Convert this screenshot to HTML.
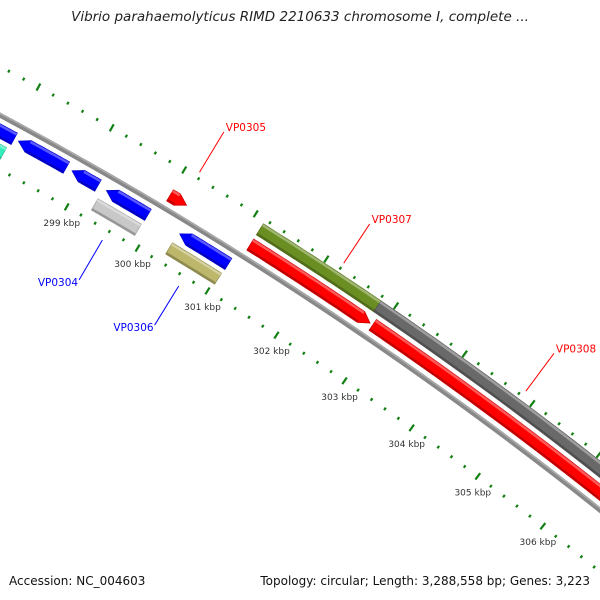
<!DOCTYPE html>
<html><head><meta charset="utf-8">
<style>
html,body{margin:0;padding:0;background:#fff;}
#wrap{position:relative;width:600px;height:600px;overflow:hidden;font-family:"DejaVu Sans","Liberation Sans",sans-serif;}
.title{position:absolute;top:9px;left:0;width:600px;text-align:center;font-style:italic;font-size:13.5px;color:#222;}
.foot{position:absolute;top:574px;font-size:12px;color:#111;}
</style></head>
<body>
<div id="wrap">
<div class="title">Vibrio parahaemolyticus RIMD 2210633 chromosome I, complete ...</div>
<svg id="map" width="600" height="600" style="position:absolute;left:0;top:0"></svg>
<div class="foot" style="left:9px">Accession: NC_004603</div>
<div class="foot" style="right:10px">Topology: circular; Length: 3,288,558 bp; Genes: 3,223</div>
</div>
<script>
// data (kbp)
const featStart = [297.0, 298.10, 298.84, 299.32, 300.35, 297.0, 299.28, 300.33, 300.01, 301.14, 302.90, 301.14, 302.82];
const featEnd   = [298.04, 298.76, 299.20, 299.90, 301.04, 298.01, 299.89, 301.03, 300.24, 302.86, 308.0, 302.82, 308.0];
const featTrack = [-1, -1, -1, -1, -1, -2, -2, -2, 1, 1, 1, 2, 2];
const featStrand= [-1, -1, -1, -1, -1, 0, 0, 0, 1, 1, 1, 0, 0];
const featColor = ["#0000ff","#0000ff","#0000ff","#0000ff","#0000ff","#33eebb","#c8c8c8","#bdb76b","#ff0000","#ff0000","#ff0000","#6b8e23","#696969"];
const tickLabels = [299, 300, 301, 302, 303, 304, 305, 306];
const labelNames = ["VP0304","VP0305","VP0306","VP0307","VP0308"];
const labelPos   = [299.58, 300.17, 300.67, 302.20, 304.85];
const labelTrack = [-2, 1, -2, 2, 2];
const labelColor = ["#0000ff","#ff0000","#0000ff","#ff0000","#ff0000"];

const CX=-1871, CY=3611, RB=3965;
const trackR = {"-2":3933,"-1":3951,"1":3979,"2":3997};
function ang(kbp){return (-60.35+(kbp-299)*1.199)*Math.PI/180;}
function pt(kbp,r){const a=ang(kbp);return [CX+r*Math.cos(a),CY+r*Math.sin(a)];}
const svg=document.getElementById('map');
const NS='http://www.w3.org/2000/svg';
function mk(tag,attrs){const e=document.createElementNS(NS,tag);for(const k in attrs)e.setAttribute(k,attrs[k]);svg.appendChild(e);return e;}
function arcPts(a,b,r,n){const p=[];for(let i=0;i<=n;i++){p.push(pt(a+(b-a)*i/n,r));}return p;}
function P(ps){return ps.map(p=>p[0].toFixed(1)+','+p[1].toFixed(1)).join(' ');}
function shade(hex,f){const n=parseInt(hex.slice(1),16);let r=n>>16,g=(n>>8)&255,b=n&255;
 const c=v=>Math.max(0,Math.min(255,Math.round(f>1?v+(255-v)*(f-1):v*f)));return 'rgb('+c(r)+','+c(g)+','+c(b)+')';}

// backbone
let bb=mk('polyline',{points:P(arcPts(296.5,308,RB,40)),fill:'none',stroke:'#888','stroke-width':5});


let bb2=mk('polyline',{points:P(arcPts(296.5,308,RB+1.5,40)),fill:'none',stroke:'#aaa','stroke-width':1.5});



// ticks
for(let k=2965;k<=3070;k++){
  const kb=k/10;
  if(k%2!==0)continue;
  const major=(k%10===0);
  const L=major?4:1.5;
  [3917,4008].forEach(r=>{
    const a=pt(kb,r-L),b=pt(kb,r+L);
    const t=mk('line',{x1:a[0],y1:a[1],x2:b[0],y2:b[1],stroke:'#138013','stroke-width':2.2});
    
    
  });
}
tickLabels.forEach(v=>{
  const p=pt(v,3917);
  const t=mk('text',{x:p[0]-5,y:p[1]+19,'text-anchor':'middle','font-size':'9','font-family':'DejaVu Sans, Liberation Sans, sans-serif',fill:'#333'});
  t.textContent=v+' kbp';
  
  
});

// features
const H=6.5, head=0.13;
featStart.forEach((s,i)=>{
  const e=featEnd[i], r=trackR[featTrack[i]], st=featStrand[i], col=featColor[i];
  let outer,inner,poly;
  if(st===1){
    const m=Math.max(s,e-head);
    outer=arcPts(s,m,r+H,20); inner=arcPts(s,m,r-H,20).reverse();
    poly=outer.concat([pt(e,r)],inner);
  }else if(st===-1){
    const m=Math.min(e,s+head);
    outer=arcPts(m,e,r+H,20); inner=arcPts(m,e,r-H,20).reverse();
    poly=[pt(s,r)].concat(outer,inner);
  }else{
    outer=arcPts(s,e,r+H,20); inner=arcPts(s,e,r-H,20).reverse();
    poly=outer.concat(inner);
  }
  const g=mk('polygon',{points:P(poly),fill:col,stroke:shade(col,0.8),'stroke-width':0.8});
  
  
  const a0=st===-1?Math.min(e,s+head):s, a1=st===1?Math.max(s,e-head):e;
  const hl=mk('polyline',{points:P(arcPts(a0,a1,r+H-1.5,20)),fill:'none',stroke:shade(col,1.35),'stroke-width':2.5});
  
  
  const dk=mk('polyline',{points:P(arcPts(a0,a1,r-H+1.2,20)),fill:'none',stroke:shade(col,0.75),'stroke-width':2});
  
  
});

// gene labels (radial leader lines)
labelNames.forEach((n,i)=>{
  const out=labelTrack[i]>0;
  const p1=out?pt(labelPos[i],4014):pt(labelPos[i],3906);
  const p2=out?pt(labelPos[i],4061):pt(labelPos[i],3860);
  const ln=mk('line',{x1:p1[0],y1:p1[1],x2:p2[0],y2:p2[1],stroke:labelColor[i],'stroke-width':1});
  
  
  const t=mk('text',{x:out?p2[0]+2:p2[0]-1,y:out?p2[1]-1:p2[1]+6,'text-anchor':out?'start':'end','font-size':'10.5','font-family':'DejaVu Sans, Liberation Sans, sans-serif',fill:labelColor[i]});
  t.textContent=n;
  
  
});
</script>
</body></html>
